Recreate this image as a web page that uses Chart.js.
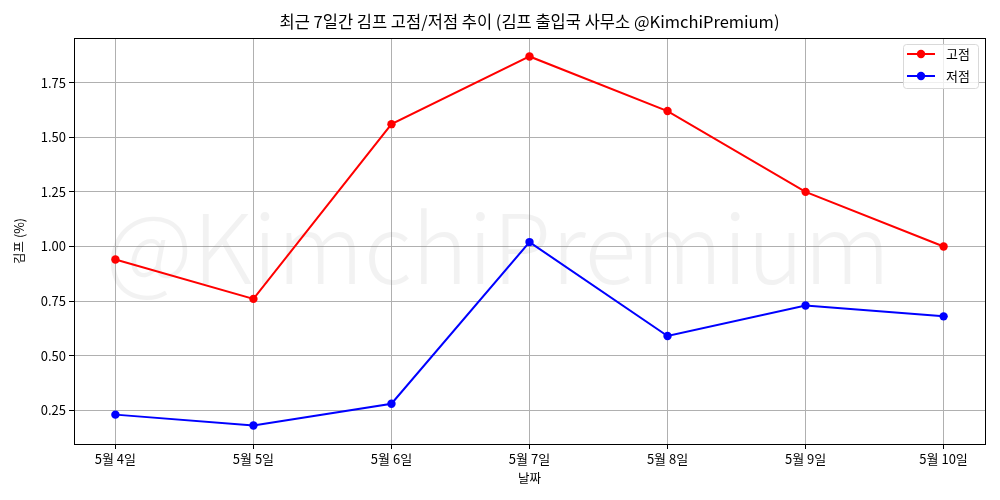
<!DOCTYPE html>
<html>
<head>
<meta charset="utf-8">
<script src="https://cdn.jsdelivr.net/npm/chart.js@4"></script>
<style>
  html, body { margin: 0; padding: 0; background: #fff; }
  #wrap { width: 1000px; height: 500px; }
</style>
</head>
<body>
<div id="wrap"><canvas id="kimpChart" width="1000" height="500"></canvas></div>
<script>
// data
const dates = ["5월 4일", "5월 5일", "5월 6일", "5월 7일", "5월 8일", "5월 9일", "5월 10일"];
const highValues = [0.94, 0.76, 1.56, 1.87, 1.62, 1.25, 1.00];
const lowValues = [0.23, 0.18, 0.28, 1.02, 0.59, 0.73, 0.68];
const yTicks = [0.25, 0.50, 0.75, 1.00, 1.25, 1.50, 1.75];
const chartTitle = "최근 7일간 김프 고점/저점 추이 (김프 출입국 사무소 @KimchiPremium)";

const FONT = "'Noto Sans CJK KR', 'Noto Sans', sans-serif";

// matplotlib style 5% margins
const allVals = highValues.concat(lowValues);
const yMin = Math.min(...allVals), yMax = Math.max(...allVals);
const yPad = (yMax - yMin) * 0.05;
const xPad = (dates.length - 1) * 0.05;

const toPoints = (arr) => arr.map((v, i) => ({ x: i, y: v }));

// title over the axes, watermark, frame and legend box
const decoPlugin = {
  id: "deco",
  beforeDatasetsDraw(chart) {
    const { ctx, chartArea: a } = chart;
    ctx.save();
    ctx.fillStyle = "#000";
    ctx.font = "16.5px " + FONT;
    ctx.textAlign = "center";
    ctx.textBaseline = "middle";
    ctx.fillText(chartTitle, (a.left + a.right) / 2, 22);

    const text = "@KimchiPremium";
    ctx.font = "300 100px " + FONT;
    const w = ctx.measureText(text).width;
    const size = 100 * 785 / w;
    ctx.font = "300 " + size + "px " + FONT;
    ctx.fillStyle = "rgba(128,128,128,0.1)";
    ctx.fillText(text, 498, 248);
    ctx.restore();
  },
  afterDatasetsDraw(chart) {
    const { ctx, chartArea: a } = chart;
    ctx.save();
    ctx.strokeStyle = "#000";
    ctx.lineWidth = 1;
    ctx.strokeRect(Math.round(a.left) + 0.5, Math.round(a.top) + 0.5,
      Math.round(a.right - a.left), Math.round(a.bottom - a.top));

    // legend
    const bx = 903, by = 44, bw = 75, bh = 44;
    ctx.fillStyle = "rgba(255,255,255,0.8)";
    ctx.strokeStyle = "#d9d9d9";
    ctx.beginPath();
    ctx.roundRect(bx + 0.5, by + 0.5, bw, bh, 3);
    ctx.fill();
    ctx.stroke();
    const items = [
      { label: "고점", color: "red", y: 54 },
      { label: "저점", color: "blue", y: 76 },
    ];
    items.forEach((it) => {
      ctx.strokeStyle = it.color;
      ctx.lineWidth = 2;
      ctx.beginPath();
      ctx.moveTo(907, it.y);
      ctx.lineTo(935, it.y);
      ctx.stroke();
      ctx.fillStyle = it.color;
      ctx.beginPath();
      ctx.arc(921, it.y, 4.2, 0, Math.PI * 2);
      ctx.fill();
      ctx.fillStyle = "#000";
      ctx.font = "13px " + FONT;
      ctx.textAlign = "left";
      ctx.textBaseline = "middle";
      ctx.fillText(it.label, 946, it.y);
    });
    ctx.restore();
  },
};

const ctx = document.getElementById("kimpChart").getContext("2d");
new Chart(ctx, {
  type: "line",
  data: {
    datasets: [
      {
        label: "고점",
        data: toPoints(highValues),
        borderColor: "red",
        backgroundColor: "red",
        pointBackgroundColor: "red",
        pointBorderWidth: 0,
        pointRadius: 4.2,
        borderWidth: 2,
        tension: 0,
      },
      {
        label: "저점",
        data: toPoints(lowValues),
        borderColor: "blue",
        backgroundColor: "blue",
        pointBackgroundColor: "blue",
        pointBorderWidth: 0,
        pointRadius: 4.2,
        borderWidth: 2,
        tension: 0,
      },
    ],
  },
  options: {
    responsive: false,
    animation: false,
    layout: { padding: { left: 12, right: 15, top: 38, bottom: 14 } },
    plugins: {
      legend: { display: false },
      tooltip: { enabled: false },
      title: { display: false },
    },
    scales: {
      x: {
        type: "linear",
        min: -xPad,
        max: dates.length - 1 + xPad,
        afterBuildTicks: (scale) => {
          scale.ticks = dates.map((d, i) => ({ value: i }));
        },
        afterFit: (scale) => { scale.height = 42; },
        grid: { color: "#b0b0b0", lineWidth: 1, tickColor: "#000", tickLength: 5 },
        border: { color: "#000", width: 1 },
        ticks: {
          color: "#000",
          font: { family: FONT, size: 13 },
          padding: 2,
          maxRotation: 0,
          callback: (v) => dates[v],
        },
        title: {
          display: true,
          text: "날짜",
          color: "#000",
          font: { family: FONT, size: 12.5 },
          padding: { top: 0, bottom: 0 },
        },
      },
      y: {
        min: yMin - yPad,
        max: yMax + yPad,
        afterBuildTicks: (scale) => {
          scale.ticks = yTicks.map((v) => ({ value: v }));
        },
        afterFit: (scale) => { scale.width = 62; },
        grid: { color: "#b0b0b0", lineWidth: 1, tickColor: "#000", tickLength: 5 },
        border: { color: "#000", width: 1 },
        ticks: {
          color: "#000",
          font: { family: FONT, size: 13 },
          padding: 3,
          callback: (v) => v.toFixed(2),
        },
        title: {
          display: true,
          text: "김프 (%)",
          color: "#000",
          font: { family: FONT, size: 12.5 },
          padding: { top: 0, bottom: 4 },
        },
      },
    },
  },
  plugins: [decoPlugin],
});
</script>
</body>
</html>
